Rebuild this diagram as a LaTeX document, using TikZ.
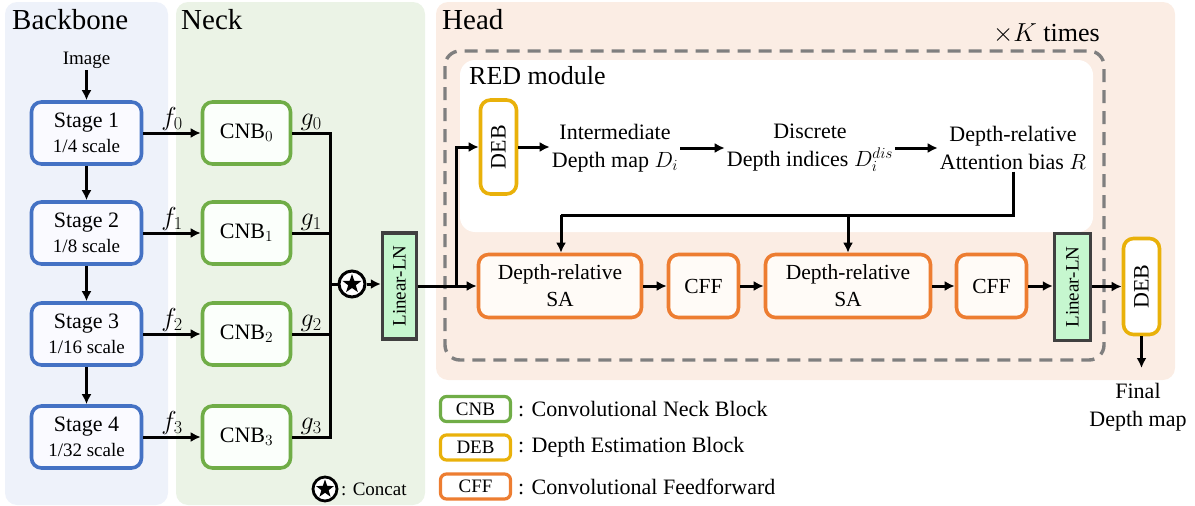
\RequirePackage{fix-cm}
\documentclass[tikz,border=0pt]{standalone}
\usepackage{graphicx}
\usepackage{fontspec}
\setmainfont{Liberation Serif}
\usetikzlibrary{arrows.meta,shapes.geometric,calc}
\definecolor{bbfill}{HTML}{EEF2FA}
\definecolor{neckfill}{HTML}{EBF3E6}
\definecolor{headfill}{HTML}{FBEDE4}
\definecolor{cblue}{HTML}{4472C4}
\definecolor{cgreen}{HTML}{70AD47}
\definecolor{cyellow}{HTML}{E9B10A}
\definecolor{corange}{HTML}{ED7D31}
\definecolor{lnfill}{HTML}{C6F7CF}
\definecolor{lnborder}{HTML}{404040}
\definecolor{dashgray}{HTML}{7F7F7F}
\newcommand{\fsz}[1]{\fontsize{#1}{1.25\dimexpr #1pt\relax}\selectfont}
\tikzset{
  panel/.style={rounded corners=12pt, draw=none},
  boxbase/.style={rectangle, rounded corners=10pt, line width=3.6pt, align=center, inner sep=1pt},
  stagebox/.style={boxbase, draw=cblue, fill=blue!2, minimum width=110pt, minimum height=62pt, font=\fsz{22}},
  cnbbox/.style={boxbase, draw=cgreen, fill=green!1.5, minimum width=88pt, minimum height=62pt, font=\fsz{22}},
  sabox/.style={boxbase, draw=corange, fill=orange!3, minimum height=63pt, font=\fsz{21.5}},
  debbox/.style={boxbase, draw=cyellow, fill=white, minimum width=36pt, font=\fsz{22}},
  lnbox/.style={rectangle, draw=lnborder, fill=lnfill, line width=3.4pt, minimum width=34pt, minimum height=106pt, inner sep=0pt, font=\fsz{19}},
  legbox/.style={rectangle, rounded corners=6pt, line width=3.2pt, fill=white, minimum width=70pt, minimum height=25pt, inner sep=0pt, font=\fsz{19}},
  txt/.style={align=center, inner sep=2pt, font=\fsz{22}},
  lbl/.style={inner sep=1pt, font=\fsz{26}},
  arr/.style={line width=3pt, -{Latex[length=10pt,width=10pt]}},
  ln/.style={line width=3pt},
  title/.style={anchor=base west, inner sep=0pt, font=\fsz{29}},
  dashbox/.style={draw=dashgray, line width=3.4pt, dash pattern=on 13pt off 8pt, rounded corners=15pt}
}
\begin{document}
\begin{tikzpicture}[x=1pt,y=-1pt]
\useasboundingbox (0,0) rectangle (1195,506);
% panels
\fill[panel, bbfill] (5,2) rectangle (168,505);
\fill[panel, neckfill] (176,2) rectangle (425,505);
\fill[panel, headfill] (436,2) rectangle (1175,380);
\node[title] (tbb) at (12,29) {Backbone};
\node[title] (tneck) at (181,29) {Neck};
\node[title] (thead) at (442,29) {Head};
\draw[dashbox] (445,51) rectangle (1104,360);
\fill[white, rounded corners=15pt] (460,60) rectangle (1093,232);
\node[anchor=base east, inner sep=0pt, font=\fsz{26}] (ktimes) at (1100,41) {${\times}K$ times};
\node[anchor=base west, inner sep=0pt, font=\fsz{26}] (red) at (469,84) {RED module};

% backbone
\node[txt, font=\fsz{19}] (img) at (86.5,60) {Image};
\node[stagebox] (s1) at (86.5,133) {Stage 1\\[-3pt]{\fsz{19}1/4 scale}};
\node[stagebox] (s2) at (86.5,233) {Stage 2\\[-3pt]{\fsz{19}1/8 scale}};
\node[stagebox] (s3) at (86.5,334) {Stage 3\\[-3pt]{\fsz{19}1/16 scale}};
\node[stagebox] (s4) at (86.5,437) {Stage 4\\[-3pt]{\fsz{19}1/32 scale}};
\draw[arr] (img) -- (s1);
\draw[arr] (s1) -- (s2);
\draw[arr] (s2) -- (s3);
\draw[arr] (s3) -- (s4);

% neck
\node[cnbbox] (c1) at (246.5,133) {$\mathrm{CNB}_0$};
\node[cnbbox] (c2) at (246.5,233) {$\mathrm{CNB}_1$};
\node[cnbbox] (c3) at (246.5,334) {$\mathrm{CNB}_2$};
\node[cnbbox] (c4) at (246.5,437) {$\mathrm{CNB}_3$};
\draw[arr] (s1) -- node[above, lbl] {$f_0$} (c1);
\draw[arr] (s2) -- node[above, lbl] {$f_1$} (c2);
\draw[arr] (s3) -- node[above, lbl] {$f_2$} (c3);
\draw[arr] (s4) -- node[above, lbl] {$f_3$} (c4);
\coordinate (g0) at (330,133);
\coordinate (g1) at (330,233);
\coordinate (g2) at (330,334);
\coordinate (g3) at (330,437);
\draw[ln] (c1) -- node[above, lbl] {$g_0$} (g0);
\draw[ln] (c2) -- node[above, lbl] {$g_1$} (g1);
\draw[ln] (c3) -- node[above, lbl] {$g_2$} (g2);
\draw[ln] (c4) -- node[above, lbl] {$g_3$} (g3);
\draw[ln, line cap=rect] (g0) -- (g3);
\node[circle, draw, fill=white, line width=3pt, minimum size=26pt, inner sep=0pt] (cat) at (352,284) {};
\node[star, star points=5, star point ratio=2.5, fill=black, minimum size=20pt, inner sep=0pt] (catstar) at (cat) {};
\coordinate (gc) at (330,284);
\draw[ln] (gc) -- (cat);
\node[lnbox] (ln1) at (399.5,286) {\rotatebox{90}{Linear-LN}};
\draw[arr] (cat) -- (cat -| ln1.west);

% concat legend
\node[circle, draw, fill=white, line width=2.8pt, minimum size=24pt, inner sep=0pt] (catl) at (325,489) {};
\node[star, star points=5, star point ratio=2.5, fill=black, minimum size=19pt, inner sep=0pt] (catlstar) at (catl) {};
\node[anchor=west, inner sep=0pt, font=\fsz{19}] (catt) at (341,489) {: Concat};

% head
\coordinate (J) at (456,286);
\node[debbox, minimum height=94pt] (deb1) at (498.5,147) {\rotatebox{90}{DEB}};
\node[txt] (inter) at (615,148) {Intermediate\\Depth map $D_i$};
\node[txt] (disc) at (810,148) {Discrete\\Depth indices $D_i^{dis}$};
\node[txt] (attn) at (1013,148) {Depth-relative\\Attention bias $R$};
\draw[ln] (ln1.east |- J) -- (J);
\draw[arr] (J) |- (deb1.west);
\draw[arr] (deb1) -- (deb1 -| inter.west);
\draw[arr] (inter.east |- disc) -- (disc.west);
\draw[arr] (disc) -- (attn);

\node[sabox, minimum width=163pt] (sa1) at (560,286) {Depth-relative\\SA};
\node[sabox, minimum width=70pt] (cff1) at (703.5,286) {CFF};
\node[sabox, minimum width=165pt] (sa2) at (848,286) {Depth-relative\\SA};
\node[sabox, minimum width=70pt] (cff2) at (991.5,286) {CFF};
\node[lnbox, minimum width=36pt, minimum height=107pt] (ln2) at (1072.5,287) {\rotatebox{90}{Linear-LN}};
\node[debbox, minimum height=96pt] (deb2) at (1141.5,286.5) {\rotatebox{90}{DEB}};
\draw[arr] (J) -- (sa1);
\draw[arr] (sa1) -- (cff1);
\draw[arr] (cff1) -- (sa2);
\draw[arr] (sa2) -- (cff2);
\draw[arr] (cff2) -- (cff2 -| ln2.west);
\draw[arr] (ln2.east |- deb2) -- (deb2);

\coordinate (r1) at (1013,215);
\coordinate (r2) at (561,215);
\coordinate (r3) at (848,215);
\draw[ln] (attn.south) -- (r1) -- (r2);
\draw[arr] (r2) -- (r2 |- sa1.north);
\draw[arr] (r3) -- (r3 |- sa2.north);

\coordinate (fe) at (1141.5,368);
\draw[arr] (deb2) -- (fe);
\node[txt] (final) at (1138,407) {Final\\Depth map};

% legend
\node[legbox, draw=cgreen] (lg1) at (475.5,409) {CNB};
\node[legbox, draw=cyellow] (lg2) at (475.5,447.5) {DEB};
\node[legbox, draw=corange] (lg3) at (475.5,486.5) {CFF};
\node[anchor=west, inner sep=0pt, font=\fsz{22}] (lt1) at (518,409) {: Convolutional Neck Block};
\node[anchor=west, inner sep=0pt, font=\fsz{22}] (lt2) at (518,447.5) {: Depth Estimation Block};
\node[anchor=west, inner sep=0pt, font=\fsz{22}] (lt3) at (518,486.5) {: Convolutional Feedforward};
\end{tikzpicture}
\end{document}
